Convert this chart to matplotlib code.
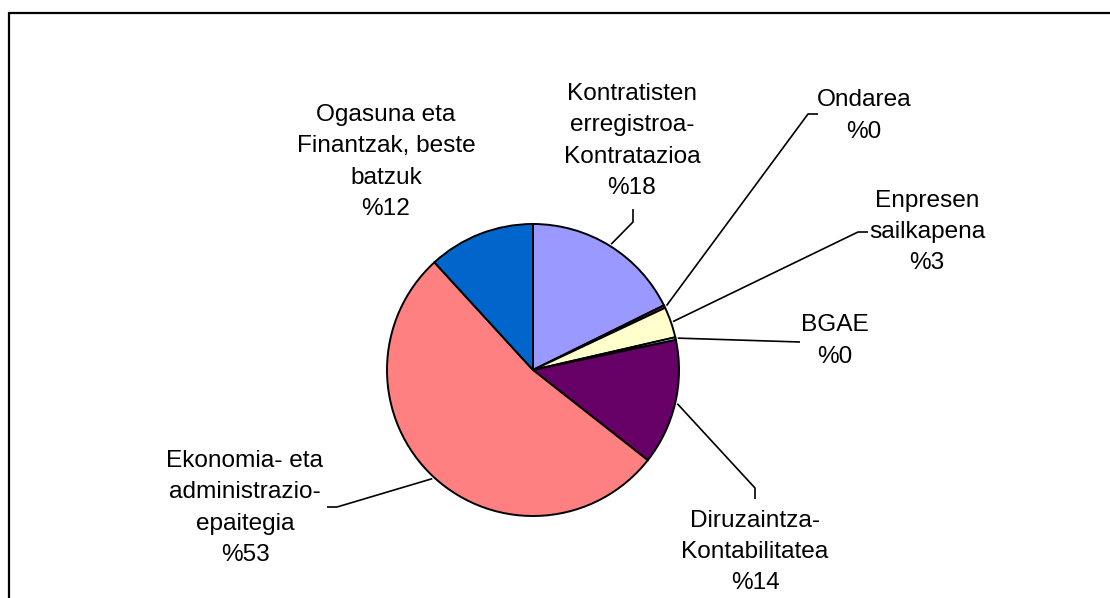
import numpy as np
import matplotlib
matplotlib.use('Agg')
import matplotlib.pyplot as plt
from matplotlib.patches import Rectangle

plt.rcParams['font.family'] = ['Liberation Sans', 'DejaVu Sans']

# share of cases per area
labels = ['Kontratisten\nerregistroa-\nKontratazioa', 'Ondarea', 'Enpresen\nsailkapena',
          'BGAE', 'Diruzaintza-\nKontabilitatea', 'Ekonomia- eta\nadministrazio-\nepaitegia',
          'Ogasuna eta\nFinantzak, beste\nbatzuk']
values = [17.7, 0.3, 3.4, 0.3, 13.9, 52.6, 11.8]
colors = ['#9999FF', '#993366', '#FFFFCC', '#CCFFFF', '#660066', '#FF8080', '#0066CC']

W, H = 1110, 598
CX, CY, R = 533, 370, 146


def py(y):
    # pixel row -> data y
    return H - y


# label block centres and leader elbows, in pixels (y down)
label_pos = [(632, 141), (864, 116), (927, 232), (835, 341), (755, 552), (245, 508), (386, 162)]
leaders = [
    [(633, 222), (633, 209)],
    [(808, 114), (818, 114)],
    [(858, 232), (868, 232)],
    [(800, 342)],
    [(755, 488), (755, 499)],
    [(337, 507), (327, 507)],
    None,
]

fig = plt.figure(figsize=(W / 100, H / 100), dpi=100)
ax = fig.add_axes([0, 0, 1, 1])

wedges, _ = ax.pie(values, colors=colors, startangle=90, counterclock=False,
                   center=(CX, py(CY)), radius=R,
                   wedgeprops=dict(edgecolor='black', linewidth=1.4))

for w, lab, v, pos, lead in zip(wedges, labels, values, label_pos, leaders):
    ax.text(pos[0], py(pos[1]), f'{lab}\n%{round(v):d}', ha='center', va='center',
            multialignment='center', fontsize=17.6, linespacing=1.53, color='black')
    if lead is None:
        continue
    mid = np.deg2rad((w.theta1 + w.theta2) / 2)
    xs = [CX + 1.015 * R * np.cos(mid)] + [p[0] for p in lead]
    ys = [py(CY) + 1.015 * R * np.sin(mid)] + [py(p[1]) for p in lead]
    ax.plot(xs, ys, color='black', linewidth=1.2, solid_capstyle='butt')

# chart area border (runs off the right and bottom edges)
ax.add_patch(Rectangle((9, -20), W + 40, py(12.5) + 20, fill=False,
                       edgecolor='black', linewidth=1.6, clip_on=False))

ax.set_xlim(0, W)
ax.set_ylim(0, H)
ax.set_aspect('equal')
ax.axis('off')

fig.savefig('out.png', dpi=100)
